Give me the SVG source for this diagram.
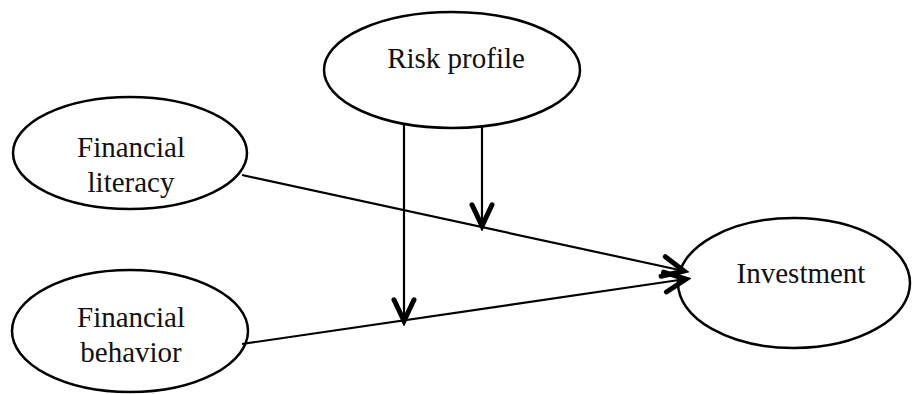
<svg xmlns="http://www.w3.org/2000/svg" width="914" height="394" viewBox="0 0 914 394">
<style>
.node{fill:#fff;stroke:#000;stroke-width:2.5}
.lbl{font-family:"Liberation Serif","Times New Roman",serif;font-size:29px;fill:#111;text-anchor:middle}
.edge{stroke:#000;stroke-width:2.2;fill:none}
</style>
<defs>
<marker id="arr" markerUnits="userSpaceOnUse" markerWidth="30" markerHeight="30" refX="20" refY="10" orient="auto" viewBox="0 0 24 20">
<path d="M3,2 L20,10 L3,18" fill="none" stroke="#000" stroke-width="4" stroke-linecap="round" stroke-linejoin="miter"/>
</marker>
</defs>
<rect width="914" height="394" fill="#fff"/>
<g id="risk-profile">
<ellipse class="node" cx="452" cy="70" rx="128" ry="58"/>
<text class="lbl" x="456" y="68">Risk profile</text>
</g>
<g id="financial-literacy">
<ellipse class="node" cx="130" cy="153" rx="117" ry="56"/>
<text class="lbl" x="131" y="157">Financial</text>
<text class="lbl" x="131" y="192">literacy</text>
</g>
<g id="financial-behavior">
<ellipse class="node" cx="130" cy="331" rx="118" ry="61"/>
<text class="lbl" x="131" y="327">Financial</text>
<text class="lbl" x="131" y="362">behavior</text>
</g>
<g id="investment">
<ellipse class="node" cx="794" cy="283" rx="116" ry="65"/>
<text class="lbl" x="801" y="283">Investment</text>
</g>
<g id="connectors">
<line class="edge" x1="242" y1="175" x2="684" y2="271" marker-end="url(#arr)"/>
<line class="edge" x1="242" y1="344" x2="686" y2="279" marker-end="url(#arr)"/>
<line class="edge" x1="404" y1="123" x2="404" y2="321" marker-end="url(#arr)"/>
<line class="edge" x1="482" y1="127" x2="482" y2="226" marker-end="url(#arr)"/>
</g>
</svg>
